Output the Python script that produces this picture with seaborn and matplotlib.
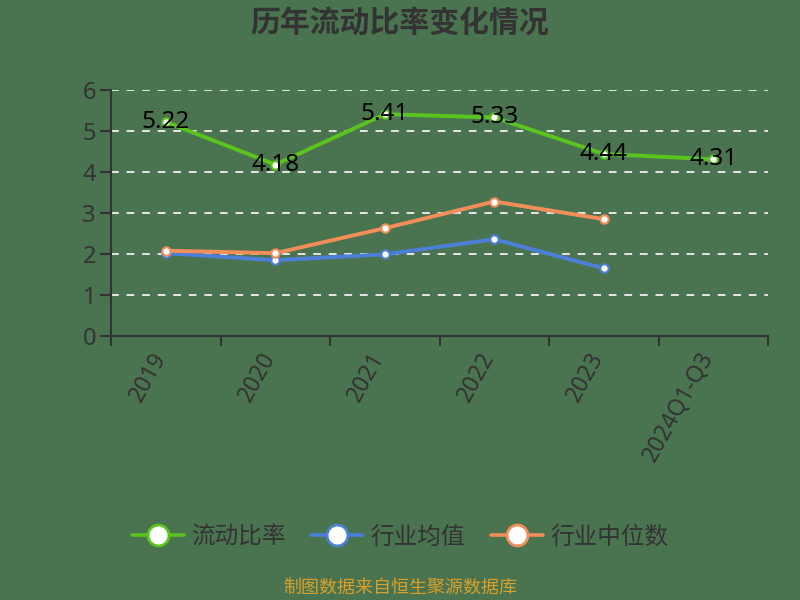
import numpy as np
import pandas as pd
import matplotlib
matplotlib.use("Agg")
import matplotlib.pyplot as plt
from matplotlib.lines import Line2D
import seaborn as sns

categories = ["2019", "2020", "2021", "2022", "2023", "2024Q1-Q3"]
current_ratio = [5.22, 4.18, 5.41, 5.33, 4.44, 4.31]
industry_mean = [2.02, 1.85, 1.99, 2.36, 1.65, np.nan]
industry_median = [2.08, 2.02, 2.63, 3.28, 2.85, np.nan]
series_names = ["流动比率", "行业均值", "行业中位数"]
title = "历年流动比率变化情况"
source = "制图数据来自恒生聚源数据库"

sns.set_theme(style="white")
plt.rcParams['font.family'] = ['Noto Sans CJK SC', 'DejaVu Sans']
plt.rcParams['axes.unicode_minus'] = False

bg = "#4a7350"
colors = ["#5ac31e", "#4c7fd8", "#f28e5a"]
txt = "#333333"
latin = ['Noto Sans', 'DejaVu Sans']

fig = plt.figure(figsize=(8, 6), dpi=100, facecolor=bg)
ax = fig.add_axes([0.139, 0.44, 0.821, 0.41])
ax.set_facecolor(bg)

df = pd.DataFrame({
    "cat": categories * 3,
    "pos": list(range(len(categories))) * 3,
    "value": current_ratio + industry_mean + industry_median,
    "series": [series_names[0]] * 6 + [series_names[1]] * 6 + [series_names[2]] * 6,
})
df = df.dropna()

for name, col in zip(series_names, colors):
    sub = df[df["series"] == name]
    sns.lineplot(data=sub, x="pos", y="value", ax=ax, color=col, lw=2.8,
                 marker="o", markersize=6, markerfacecolor="white",
                 markeredgecolor=col, markeredgewidth=1.5, legend=False, zorder=3)

for i, v in enumerate(current_ratio):
    ax.text(i, v, f"{v:.2f}", ha="center", va="center", fontsize=17.5,
            color="black", zorder=5, family=latin, fontweight="medium")

ax.set_xlim(-0.5, len(categories) - 0.5)
ax.set_ylim(0, 6)
ax.set_yticks(range(0, 7))
ax.set_yticklabels([str(i) for i in range(0, 7)], fontsize=17, color=txt,
                   family=latin, fontweight="medium")
for y in range(1, 7):
    ax.axhline(y, color="#e6e6e6", lw=1.4, ls=(0, (4, 4)), zorder=1)

ax.set_xticks(np.arange(-0.5, len(categories), 1))
ax.set_xticklabels([""] * (len(categories) + 1))
ax.set_xticks(range(len(categories)), minor=True)
ax.set_xticklabels(categories, minor=True, rotation=61, ha="right", va="baseline",
                   rotation_mode="anchor", fontsize=16.5, color=txt,
                   family=latin, fontweight="medium")
ax.tick_params(axis="x", which="major", length=7, width=1.5, color=txt, direction="out", bottom=True)
ax.tick_params(axis="x", which="minor", length=0, pad=15, bottom=True)
ax.tick_params(axis="y", length=8, width=1.5, color=txt, left=True, pad=3)
ax.set_xlabel("")
ax.set_ylabel("")
for s in ["top", "right"]:
    ax.spines[s].set_visible(False)
for s in ["left", "bottom"]:
    ax.spines[s].set_color(txt)
    ax.spines[s].set_linewidth(1.5)

fig.text(0.5, 1 - 24 / 600, title, ha="center", va="center", fontsize=21.5,
         fontweight="bold", color=txt)

handles = [Line2D([0], [0], color=c, lw=2.6, marker="o", markersize=15,
                  markerfacecolor="white", markeredgecolor=c, markeredgewidth=2)
           for c in colors]
fig.legend(handles, series_names, loc="center", bbox_to_anchor=(0.5, 1 - 537 / 600),
           ncol=3, frameon=False, fontsize=17, handlelength=2.2, columnspacing=1.1,
           handletextpad=0.3, labelcolor=txt)

fig.text(0.5, 1 - 588 / 600, source, ha="center", va="center", fontsize=13,
         color="#d9a12a")

fig.savefig("out.png", dpi=100, facecolor=bg)
